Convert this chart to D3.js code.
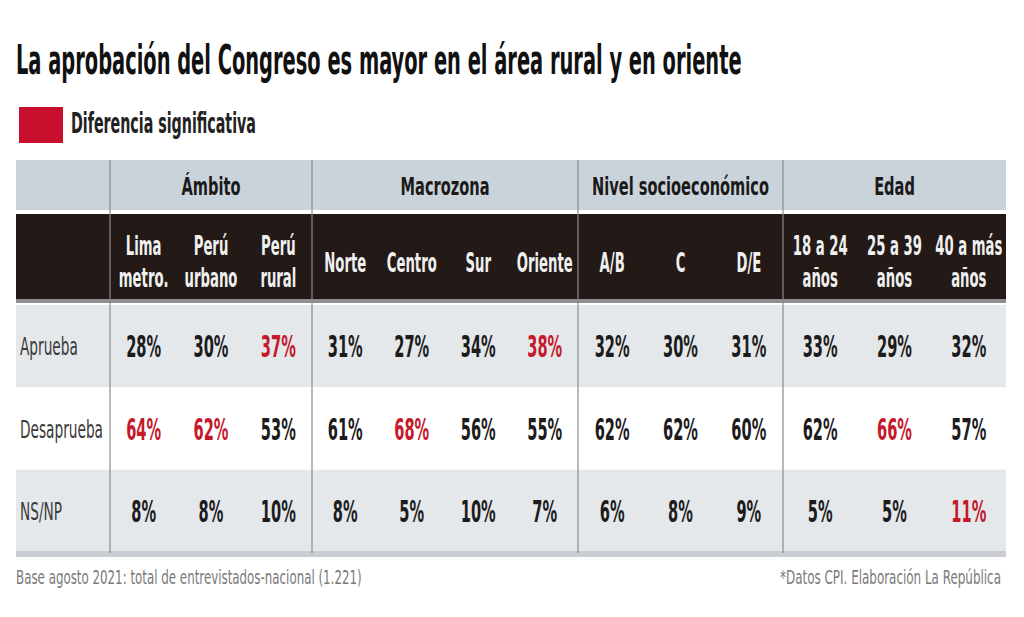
<!DOCTYPE html>
<html><head><meta charset="utf-8">
<script src="https://cdn.jsdelivr.net/npm/d3@7"></script>
<style>
body{margin:0;background:#fff;}
svg text{font-family:"DejaVu Sans Condensed","Liberation Sans Narrow",sans-serif;}
</style></head>
<body><svg id="c" width="1024" height="617"></svg>
<script>
const title = "La aprobación del Congreso es mayor en el área rural y en oriente";
const legendLabel = "Diferencia significativa";
const groups = ["Ámbito","Macrozona","Nivel socioeconómico","Edad"];
const columns = [
  {g:"Ámbito", k:"lima", label:["Lima","metro."]},
  {g:"Ámbito", k:"urb", label:["Perú","urbano"]},
  {g:"Ámbito", k:"rur", label:["Perú","rural"]},
  {g:"Macrozona", k:"norte", label:["Norte"]},
  {g:"Macrozona", k:"centro", label:["Centro"]},
  {g:"Macrozona", k:"sur", label:["Sur"]},
  {g:"Macrozona", k:"oriente", label:["Oriente"]},
  {g:"Nivel socioeconómico", k:"ab", label:["A/B"]},
  {g:"Nivel socioeconómico", k:"c", label:["C"]},
  {g:"Nivel socioeconómico", k:"de", label:["D/E"]},
  {g:"Edad", k:"e1", label:["18 a 24","años"]},
  {g:"Edad", k:"e2", label:["25 a 39","años"]},
  {g:"Edad", k:"e3", label:["40 a más","años"]}
];
const rows = ["Aprueba","Desaprueba","NS/NP"];
const aprueba    = [28,30,37,31,27,34,38,32,30,31,33,29,32];
const desaprueba = [64,62,53,61,68,56,55,62,62,60,62,66,57];
const nsnp       = [8,8,10,8,5,10,7,6,8,9,5,5,11];
const significant = [
  [false,false,true,false,false,false,true,false,false,false,false,false,false],
  [true,true,false,false,true,false,false,false,false,false,false,true,false],
  [false,false,false,false,false,false,false,false,false,false,false,false,true]
];
const footLeft = "Base agosto 2021: total de entrevistados-nacional (1.221)";
const footRight = "*Datos CPI. Elaboración La República";

const svg = d3.select("#c");
const RED = "#c41a2b", INK = "#1c1c1c";

function natural(sample, size, weight){
  const t = svg.append("text").attr("font-size",size).attr("font-weight",weight).text(sample);
  const w = t.node().getComputedTextLength(); t.remove();
  return w;
}
// draw a horizontally condensed text (scaled around its anchor point)
function ctext(parent, x, y, str, o){
  const g = parent.append("g").attr("transform",`translate(${x},${y}) scale(${o.f},1)`);
  return g.append("text").attr("x",0).attr("y",0)
    .attr("text-anchor",o.anchor||"start").attr("font-size",o.size)
    .attr("font-weight",o.weight||"normal").attr("fill",o.fill).text(str);
}

// title
ctext(svg,16,74,title,{size:40,weight:"bold",fill:"#111",f:726/natural(title,40,"bold")});
// legend
svg.append("rect").attr("x",19).attr("y",107).attr("width",44).attr("height",36).attr("fill","#c8102e");
ctext(svg,71,133,legendLabel,{size:28,weight:"bold",fill:"#222",f:185/natural(legendLabel,28,"bold")});

// scales
const groupEdges = [110,312,578,783,1006];
const tableX0 = 16, tableX1 = 1006;
const groupScale = {};
groups.forEach((g,i)=>{
  groupScale[g] = d3.scaleBand().domain(columns.filter(c=>c.g===g).map(c=>c.k)).range([groupEdges[i],groupEdges[i+1]]);
});
const colX = c => groupScale[c.g](c.k) + groupScale[c.g].bandwidth()/2;
const rowY = d3.scaleBand().domain(rows).range([305,552]);

// group header row
svg.append("rect").attr("x",tableX0).attr("y",160).attr("width",tableX1-tableX0).attr("height",50).attr("fill","#cbd3da");
// dark header row
svg.append("rect").attr("x",tableX0).attr("y",214).attr("width",tableX1-tableX0).attr("height",86).attr("fill","#231a17");
svg.append("rect").attr("x",tableX0).attr("y",299).attr("width",tableX1-tableX0).attr("height",4).attr("fill","#8f8f8f");
// data rows
const rowFill = ["#e5e8eb","#ffffff","#e5e8eb"];
svg.selectAll("rect.row").data(rows).join("rect").attr("class","row")
  .attr("x",tableX0).attr("y",d=>rowY(d)).attr("width",tableX1-tableX0).attr("height",rowY.bandwidth())
  .attr("fill",(d,i)=>rowFill[i]);
svg.append("rect").attr("x",tableX0).attr("y",551).attr("width",tableX1-tableX0).attr("height",6).attr("fill","#c9cdd1");

// vertical dividers
svg.selectAll("line.div").data(groupEdges.slice(0,4)).join("line").attr("class","div")
  .attr("x1",d=>d).attr("x2",d=>d).attr("y1",160).attr("y2",553)
  .attr("stroke","#8a8a8a").attr("stroke-width",1.2);

// group labels
const fGrp = 177/natural("Nivel socioeconómico",25,"bold");
groups.forEach((d,i)=>ctext(svg,(groupEdges[i]+groupEdges[i+1])/2,195,d,
  {size:25,weight:"bold",fill:"#1a1a1a",anchor:"middle",f:fGrp}));

// column labels
const fCol = 56/natural("Oriente",26,"bold");
columns.forEach(c=>{
  const x = colX(c);
  const ys = c.label.length===2 ? [255,287] : [272];
  c.label.forEach((t,i)=>ctext(svg,x,ys[i],t,{size:26,weight:"bold",fill:"#f0f0f0",anchor:"middle",f:fCol}));
});

// row labels
const fRow = 83/natural("Desaprueba",25,"normal");
rows.forEach(r=>ctext(svg,20,rowY(r)+rowY.bandwidth()/2+9,r,{size:25,fill:"#3a3a3a",f:fRow}));

// values
const fVal = 35/natural("28%",30,"bold");
const values = [aprueba,desaprueba,nsnp];
rows.forEach((r,ri)=>{
  values[ri].forEach((v,i)=>ctext(svg,colX(columns[i]),rowY(r)+rowY.bandwidth()/2+11,v+"%",
    {size:30,weight:"bold",anchor:"middle",fill:significant[ri][i]?RED:INK,f:fVal}));
});

// footer
ctext(svg,16,584,footLeft,{size:20,fill:"#7a7a7a",f:346/natural(footLeft,20,"normal")});
ctext(svg,1001,584,footRight,{size:20,fill:"#7a7a7a",anchor:"end",f:221/natural(footRight,20,"normal")});
</script></body></html>
